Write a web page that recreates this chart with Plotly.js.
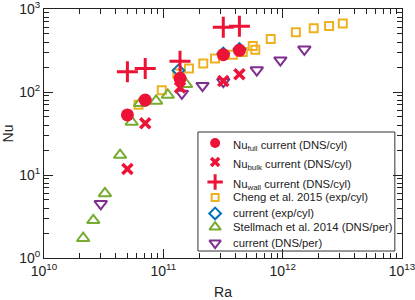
<!DOCTYPE html>
<html><head><meta charset="utf-8">
<script src="https://cdn.plot.ly/plotly-3.0.1.min.js"></script>
<style>html,body{margin:0;padding:0;background:#fff}#chart{width:415px;height:300px}</style>
</head><body><div id="chart"></div>
<script>
// Nu_full, Nu_bulk, Nu_wall (current DNS/cyl)
const raCur = [5.0e10, 7.05e10, 1.38e11, 3.18e11, 4.34e11];
const nuFull = [53, 80, 146, 282, 318];
const nuBulk = [11.8, 42, 113, 136, 164];
const nuWall = [175, 192, 235, 603, 620];
// Cheng et al. 2015 (exp/cyl)
const raCheng = [6.2e10, 9.7e10, 1.31e11, 1.64e11, 2.16e11, 2.71e11, 3.82e11, 4.63e11, 5.61e11, 5.9e11, 7.94e11, 1.29e12, 1.82e12, 2.45e12, 3.19e12];
const nuCheng = [70, 105, 167, 192, 220, 253, 282, 303, 358, 323, 434, 526, 587, 625, 668];
// current (exp/cyl)
const raExp = [1.34e11, 3.18e11, 4.34e11];
const nuExp = [182, 290, 330];
// Stellmach et al. 2014 (DNS/per)
const raStell = [2.13e10, 2.59e10, 3.24e10, 4.34e10, 5.43e10, 6.38e10, 8.69e10, 1.09e11, 1.55e11];
const nuStell = [1.73, 2.84, 6.0, 17.4, 43.5, 73, 78, 92, 124];
// current (DNS/per)
const raPer = [2.99e10, 1.43e11, 2.13e11, 3.18e11, 6.07e11, 9.57e11, 1.52e12];
const nuPer = [4.5, 96, 119, 133, 184, 242, 327];
// tick labels
const xTickVals = [1e10, 1e11, 1e12, 1e13];
const xTickText = ['10<sup>10</sup>', '10<sup>11</sup>', '10<sup>12</sup>', '10<sup>13</sup>'];
const yTickVals = [1, 10, 100, 1000];
const yTickText = ['10<sup>0</sup>', '10<sup>1</sup>', '10<sup>2</sup>', '10<sup>3</sup>'];
// legend entries (in legend order)
const legendNames = ['Nu<sub>full</sub> current (DNS/cyl)', 'Nu<sub>bulk</sub> current (DNS/cyl)',
  'Nu<sub>wall</sub> current (DNS/cyl)', 'Cheng et al. 2015 (exp/cyl)', 'current (exp/cyl)',
  'Stellmach et al. 2014 (DNS/per)', 'current (DNS/per)'];

const RED = '#ec1337', ORANGE = '#edb120', BLUE = '#0072bd', GREEN = '#77ac30', PURPLE = '#7e2f8e';

const styles = [
  {symbol: 'circle', size: 13, lsize: 10, color: RED, lw: 0},
  {symbol: 'x-thin-open', size: 10, lsize: 8, color: RED, lw: 3.5},
  {symbol: 'cross-thin-open', size: 15, lsize: 11, color: RED, lw: 3},
  {symbol: 'square-open', size: 8, lsize: 7, color: ORANGE, lw: 2},
  {symbol: 'diamond-open', size: 9, lsize: 9, color: BLUE, lw: 2},
  {symbol: 'triangle-up-open', size: 11, lsize: 10, color: GREEN, lw: 2},
  {symbol: 'triangle-down-open', size: 11, lsize: 10, color: PURPLE, lw: 2}
];
function mk(i, legend) {
  const s = styles[i];
  return {symbol: s.symbol, size: legend ? s.lsize : s.size, color: s.color, line: {width: s.lw, color: s.color}};
}

function minorVals(lo, hi) {
  const v = [];
  for (let e = lo; e < hi; e++) for (let k = 2; k <= 9; k++) v.push(k * Math.pow(10, e));
  return v;
}

const traces = [
  {x: raCheng, y: nuCheng, name: legendNames[3], mode: 'markers', marker: mk(3)},
  {x: raStell, y: nuStell, name: legendNames[5], mode: 'markers', marker: mk(5)},
  {x: raExp, y: nuExp, name: legendNames[4], mode: 'markers', marker: mk(4)},
  {x: raPer, y: nuPer, name: legendNames[6], mode: 'markers', marker: mk(6)},
  {x: raCur, y: nuFull, name: legendNames[0], mode: 'markers', marker: mk(0)},
  {x: raCur, y: nuBulk, name: legendNames[1], mode: 'markers', marker: mk(1)},
  {x: raCur, y: nuWall, name: legendNames[2], mode: 'markers', marker: mk(2)}
];

// hand-built legend (row layout in fraction of the plot area)
const legRowY = [0.462, 0.386, 0.305, 0.243, 0.179, 0.124, 0.060];
const legMarkX = 0.478, legTextX = 0.523;
legendNames.forEach((n, i) => {
  traces.push({x: [legMarkX], y: [legRowY[i]], xaxis: 'x2', yaxis: 'y2', mode: 'markers',
    marker: mk(i, true), showlegend: false, hoverinfo: 'skip'});
});
const annotations = legendNames.map((n, i) => ({
  xref: 'x2', yref: 'y2', x: legTextX, y: legRowY[i] + (n.indexOf('<sub>') >= 0 ? -0.012 : 0),
  text: n, showarrow: false, xanchor: 'left', yanchor: 'middle',
  font: {family: 'Liberation Sans, Arial, sans-serif', size: 11.3, color: '#222'}
}));

const axisCommon = {
  type: 'log', showgrid: false, zeroline: false, showline: true, linecolor: '#222', linewidth: 1,
  mirror: 'allticks', ticks: 'inside', ticklen: 9, tickcolor: '#222', tickwidth: 1,
  ticklabeloverflow: 'allow',
  tickmode: 'array', tickfont: {family: 'Liberation Sans, Arial, sans-serif', size: 14, color: '#222'}
};

const layout = {
  width: 415, height: 300,
  margin: {l: 44, r: 13, t: 9, b: 42},
  paper_bgcolor: '#fff', plot_bgcolor: '#fff',
  font: {family: 'Liberation Sans, Arial, sans-serif', color: '#222'},
  showlegend: false,
  xaxis: Object.assign({}, axisCommon, {range: [10, 13], tickvals: xTickVals, ticktext: xTickText,
    minor: {tickmode: 'array', tickvals: minorVals(10, 13), ticks: 'inside', ticklen: 5, tickcolor: '#222', showgrid: false},
    title: {text: 'Ra', font: {size: 14, color: '#222'}, standoff: 10}}),
  yaxis: Object.assign({}, axisCommon, {range: [0, 3], tickvals: yTickVals, ticktext: yTickText,
    minor: {tickmode: 'array', tickvals: minorVals(0, 3), ticks: 'inside', ticklen: 5, tickcolor: '#222', showgrid: false},
    title: {text: 'Nu', font: {size: 14, color: '#222'}, standoff: 4}}),
  xaxis2: {overlaying: 'x', range: [0, 1], visible: false, fixedrange: true},
  yaxis2: {overlaying: 'y', range: [0, 1], visible: false, fixedrange: true},
  shapes: [{type: 'rect', xref: 'paper', yref: 'paper', x0: 0.430, x1: 0.980, y0: 0.028, y1: 0.506,
    line: {color: '#333', width: 1}, fillcolor: '#fff', layer: 'below'}],
  annotations: annotations
};

Plotly.newPlot('chart', traces, layout, {displayModeBar: false, staticPlot: true});
</script></body></html>
